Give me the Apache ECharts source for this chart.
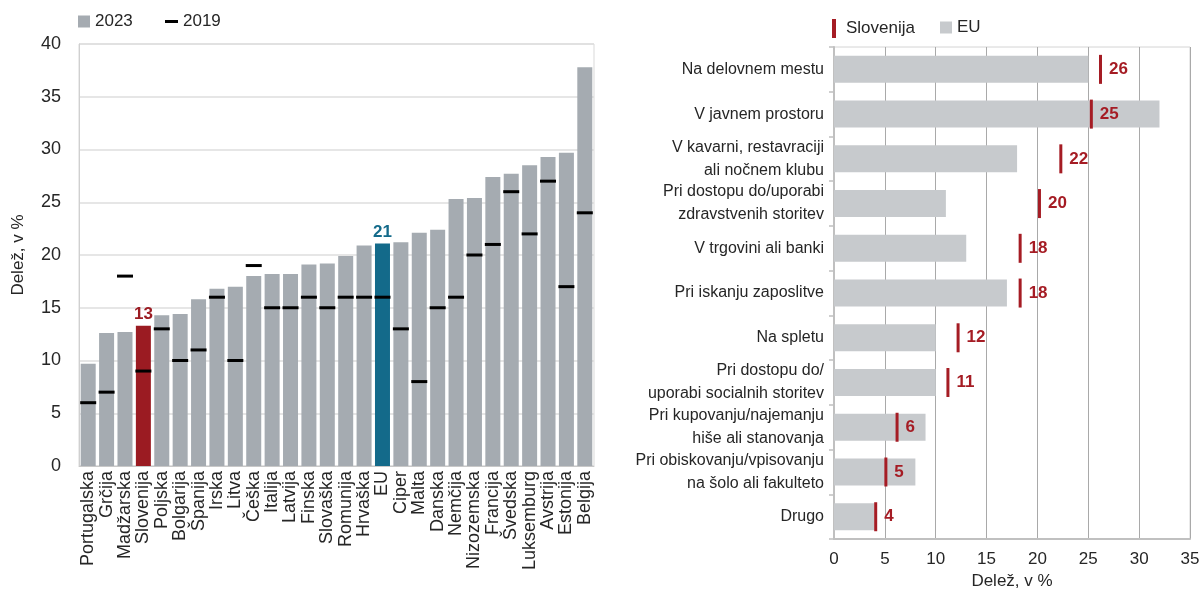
<!DOCTYPE html>
<html><head><meta charset="utf-8">
<script src="https://cdn.jsdelivr.net/npm/echarts@6/dist/echarts.min.js"></script>
<style>html,body{margin:0;padding:0;background:#fff}#c{width:1203px;height:595px}</style>
</head><body><div id="c"></div>
<script>
const countries = ['Portugalska','Grčija','Madžarska','Slovenija','Poljska','Bolgarija','Španija','Irska','Litva','Češka','Italija','Latvija','Finska','Slovaška','Romunija','Hrvaška','EU','Ciper','Malta','Danska','Nemčija','Nizozemska','Francija','Švedska','Luksemburg','Avstrija','Estonija','Belgija'];
const share2023 = [9.7,12.6,12.7,13.3,14.3,14.4,15.8,16.8,17.0,18.0,18.2,18.2,19.1,19.2,19.9,20.9,21.1,21.2,22.1,22.4,25.3,25.4,27.4,27.7,28.5,29.3,29.7,37.8];
const share2019 = [6,7,18,9,13,10,11,16,10,19,15,15,16,15,16,16,16,13,8,15,16,20,21,26,22,27,17,24];
const leftTicks = {min:0, max:40, interval:5};

const places = ['Na delovnem mestu','V javnem prostoru','V kavarni, restavraciji\nali nočnem klubu','Pri dostopu do/uporabi\nzdravstvenih storitev','V trgovini ali banki','Pri iskanju zaposlitve','Na spletu','Pri dostopu do/\nuporabi socialnih storitev','Pri kupovanju/najemanju\nhiše ali stanovanja','Pri obiskovanju/vpisovanju\nna šolo ali fakulteto','Drugo'];
const euShare = [25,32,18,11,13,17,10,10,9,8,4];
const sloShare = [26.2,25.3,22.3,20.2,18.3,18.3,12.2,11.2,6.2,5.1,4.1];
const rightTicks = {min:0, max:35, interval:5};

const FONT = 'Liberation Sans';
const TXT = '#262626';
const GRAY = '#a5abb1', SLO = '#9b1b22', EUC = '#136a8a', RED = '#a51c24';

const barData = share2023.map((v,i)=>{
  const c = countries[i];
  if (c === 'Slovenija') return {value:v, itemStyle:{color:SLO}, label:{show:true, color:SLO}};
  if (c === 'EU') return {value:v, itemStyle:{color:EUC}, label:{show:true, color:EUC}};
  return v;
});

const chart = echarts.init(document.getElementById('c'), null, {renderer:'canvas'});
chart.setOption({
  animation:false,
  textStyle:{fontFamily:FONT, color:TXT},
  legend:[
    {data:['2023'], left:78, top:13, padding:0, icon:'rect', itemWidth:12, itemHeight:12, textStyle:{fontFamily:FONT,fontSize:17,color:TXT}},
    {data:['2019'], left:165, top:13, padding:0, icon:'rect', itemWidth:13, itemHeight:3, textStyle:{fontFamily:FONT,fontSize:17,color:TXT}},
    {data:['Slovenija'], left:832, top:19, padding:0, icon:'rect', itemWidth:4, itemHeight:19, textStyle:{fontFamily:FONT,fontSize:17,color:TXT,padding:[0,0,0,5]}},
    {data:['EU'], left:940, top:19, padding:0, icon:'rect', itemWidth:12, itemHeight:12, textStyle:{fontFamily:FONT,fontSize:17,color:TXT}}
  ],
  grid:[
    {left:79, right:609, top:44, bottom:129, show:true, borderColor:'#d9d9d9', borderWidth:1, containLabel:false},
    {left:834, right:13, top:47, bottom:55, show:true, borderColor:'#d4d4d4', borderWidth:1, containLabel:false}
  ],
  xAxis:[
    {type:'category', gridIndex:0, data:countries,
     axisLine:{show:true, lineStyle:{color:'#c8c8c8', width:1}}, axisTick:{show:false},
     axisLabel:{rotate:90, interval:0, fontSize:18, color:TXT, margin:5, fontFamily:FONT}},
    {type:'value', gridIndex:1, min:rightTicks.min, max:rightTicks.max, interval:rightTicks.interval,
     name:'Delež, v %', nameLocation:'middle', nameGap:33, nameTextStyle:{fontSize:17, color:TXT, fontFamily:FONT},
     axisLine:{show:true, lineStyle:{color:'#c0c0c0', width:2}}, axisTick:{show:false},
     axisLabel:{fontSize:17, color:TXT, margin:12, fontFamily:FONT},
     splitLine:{show:true, lineStyle:{color:'#a9a9a9', width:1}}}
  ],
  yAxis:[
    {type:'value', gridIndex:0, min:leftTicks.min, max:leftTicks.max, interval:leftTicks.interval,
     name:'Delež, v %', nameLocation:'middle', nameGap:52, nameRotate:90, nameTextStyle:{fontSize:17, color:TXT, fontFamily:FONT},
     axisLine:{show:true, lineStyle:{color:'#d0d0d0'}}, axisTick:{show:false},
     axisLabel:{fontSize:18, color:TXT, margin:18, fontFamily:FONT},
     splitLine:{show:true, lineStyle:{color:'#dedede', width:1.5}}},
    {type:'category', gridIndex:1, data:places, inverse:true,
     axisLine:{show:true, lineStyle:{color:'#c0c0c0', width:2}},
     axisTick:{show:true, length:5, lineStyle:{color:'#c0c0c0', width:1.5}},
     axisLabel:{fontSize:16, color:TXT, margin:10, lineHeight:23, align:'right', fontFamily:FONT}}
  ],
  series:[
    {name:'2023', type:'bar', xAxisIndex:0, yAxisIndex:0, data:barData, barWidth:15,
     itemStyle:{color:GRAY},
     label:{show:false, position:'top', distance:3, fontWeight:'bold', fontSize:17, fontFamily:FONT, formatter:(p)=>Math.round(p.value)}},
    {name:'2019', type:'scatter', xAxisIndex:0, yAxisIndex:0, data:share2019, symbol:'rect', symbolSize:[16,3],
     itemStyle:{color:'#000', opacity:1}, z:5},
    {name:'EU', type:'bar', xAxisIndex:1, yAxisIndex:1, data:euShare, barWidth:27, itemStyle:{color:'#c7cacd'}},
    {name:'Slovenija', type:'scatter', xAxisIndex:1, yAxisIndex:1, data:sloShare, symbol:'rect', symbolSize:[3,29],
     itemStyle:{color:RED, opacity:1}, z:5,
     label:{show:true, position:'right', distance:7, color:RED, fontWeight:'bold', fontSize:17, fontFamily:FONT,
            formatter:(p)=>Math.round(p.value)}}
  ]
});
</script></body></html>
